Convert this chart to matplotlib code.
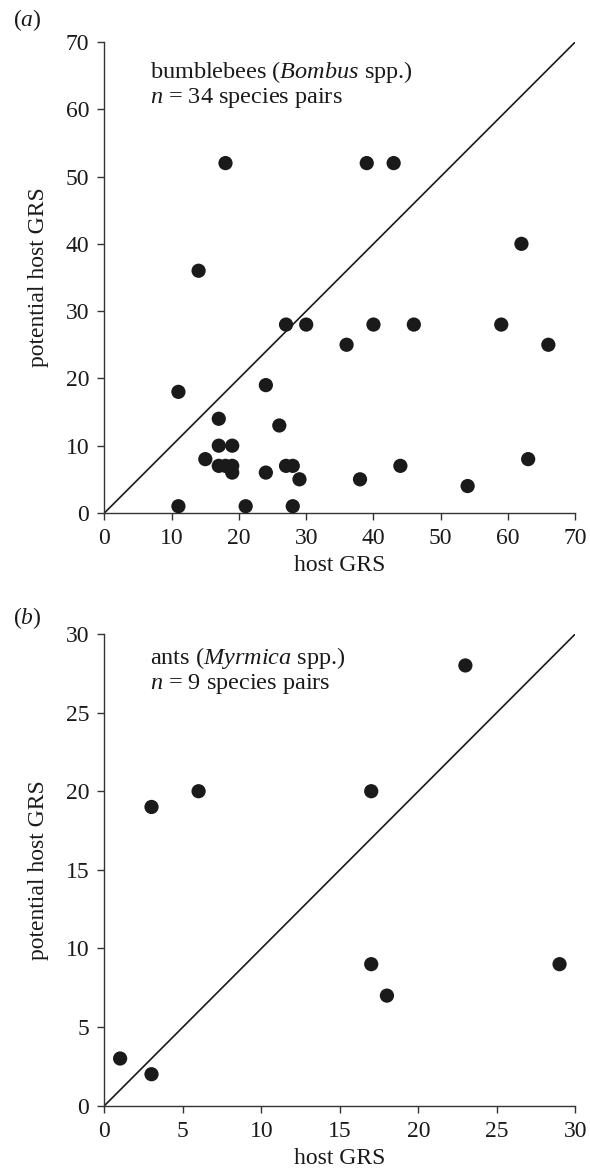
import numpy as np
import matplotlib
matplotlib.use("Agg")
import matplotlib.pyplot as plt

# panel (a): bumblebees
bee_host = [11, 11, 14, 15, 17, 17, 17, 18, 18, 19, 19, 19, 21, 24, 24, 26, 27,
            27, 28, 28, 29, 30, 36, 38, 39, 40, 43, 44, 46, 54, 59, 62, 63, 66]
bee_potential = [18, 1, 36, 8, 14, 10, 7, 52, 7, 10, 7, 6, 1, 19, 6, 13, 28,
                 7, 7, 1, 5, 28, 25, 5, 52, 28, 52, 7, 28, 4, 28, 40, 8, 25]

# panel (b): ants
ant_host = [1, 3, 3, 6, 17, 17, 18, 23, 29]
ant_potential = [3, 2, 19, 20, 20, 9, 7, 28, 9]

plt.rcParams['font.family'] = ['Liberation Serif', 'DejaVu Serif']
plt.rcParams['mathtext.fontset'] = 'custom'
plt.rcParams['mathtext.rm'] = 'Liberation Serif'
plt.rcParams['mathtext.it'] = 'Liberation Serif:italic'

fig = plt.figure(figsize=(5.9, 11.73), dpi=100)
ax1 = fig.add_axes([0.177, 0.5627, 0.798, 0.4015])
ax2 = fig.add_axes([0.177, 0.0574, 0.798, 0.4021])

panels = [
	(ax1, bee_host, bee_potential, 70, np.arange(0, 71, 10),
	 'bumblebees ($\\it{Bombus}$ spp.)\n$\\it{n}$ = 34 species pairs', r'($\it{a}$)',
	 1.047, 0.91),
	(ax2, ant_host, ant_potential, 30, np.arange(0, 31, 5),
	 'ants ($\\it{Myrmica}$ spp.)\n$\\it{n}$ = 9 species pairs', r'($\it{b}$)',
	 1.034, 0.922),
]

for ax, x, y, lim, ticks, note, tag, tag_y, text_y in panels:
	ax.plot([0, lim], [0, lim], color='#1a1a1a', lw=1.2, zorder=1)
	ax.scatter(x, y, s=105, color='#1a1a1a', edgecolors='none', zorder=3, clip_on=False)
	ax.set_xlim(0, lim)
	ax.set_ylim(0, lim)
	ax.set_xticks(ticks)
	ax.set_yticks(ticks)
	for s in ['top', 'right']:
		ax.spines[s].set_visible(False)
	for s in ['left', 'bottom']:
		ax.spines[s].set_linewidth(1.0)
		ax.spines[s].set_color('#333333')
	ax.tick_params(direction='out', length=5, width=1.0, pad=6, labelsize=17,
		colors='#333333', labelcolor='#1a1a1a')
	ax.set_xlabel('host GRS', fontsize=17, color='#1a1a1a', labelpad=4)
	ax.set_ylabel('potential host GRS', fontsize=17, color='#1a1a1a', labelpad=12)
	ax.text(0.097, text_y, note, transform=ax.transAxes, fontsize=17.5,
		color='#1a1a1a', va='center', linespacing=1.05)
	ax.text(-0.194, tag_y, tag, transform=ax.transAxes, fontsize=17,
		color='#1a1a1a', va='center')

plt.savefig('out.png', dpi=100)
plt.close()
